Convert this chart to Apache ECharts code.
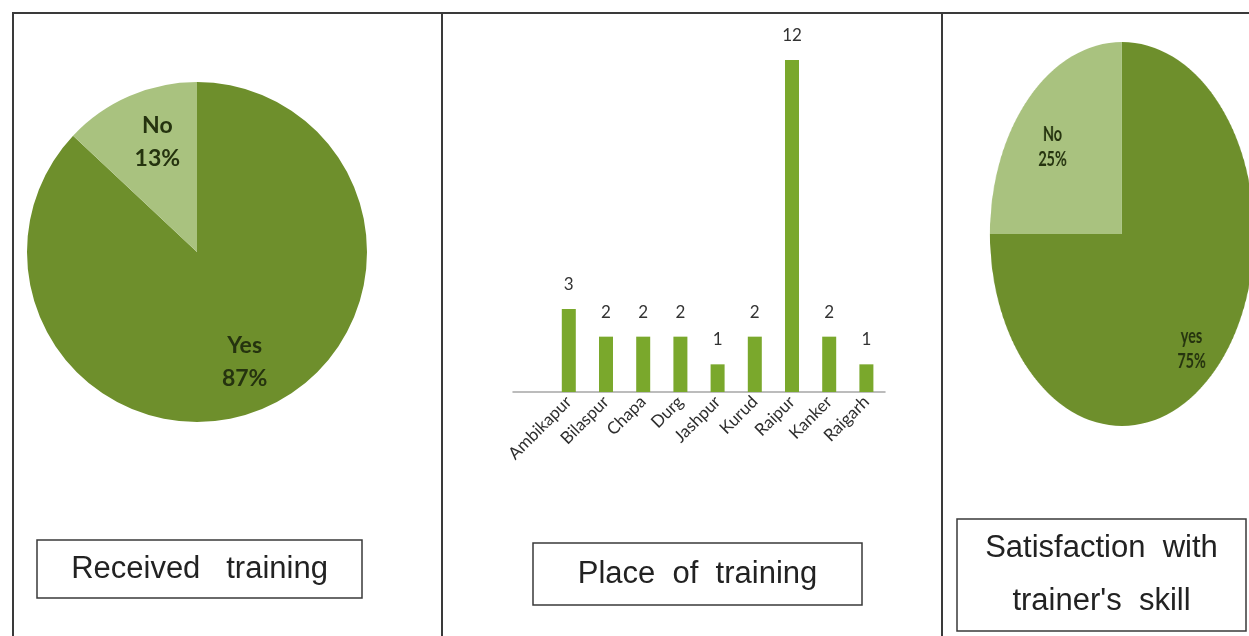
<!DOCTYPE html>
<html>
<head>
<meta charset="utf-8">
<script src="https://cdn.jsdelivr.net/npm/echarts@6/dist/echarts.min.js"></script>
<style>
  html, body { margin: 0; padding: 0; width: 1249px; height: 636px; overflow: hidden; background: #fff; }
  #main { position: absolute; left: 0; top: 0; width: 1249px; height: 636px; }
  /* the satisfaction pie is drawn as a circle and squeezed horizontally into an oval */
  #skill { position: absolute; left: 942px; top: 0; width: 480px; height: 636px;
           transform: scaleX(0.6875); transform-origin: 0 0; }
</style>
</head>
<body>
<div id="main"></div>
<div id="skill"></div>
<script>
// ---- data ----
const trainingLabels = ['Yes', 'No'];
const trainingShares = [87, 13];

const places = ['Ambikapur', 'Bilaspur', 'Chapa', 'Durg', 'Jashpur', 'Kurud', 'Raipur', 'Kanker', 'Raigarh'];
const placeCounts = [3, 2, 2, 2, 1, 2, 12, 2, 1];

const skillLabels = ['yes', 'No'];
const skillShares = [75, 25];

const panelTitles = ['Received   training', 'Place  of  training', "Satisfaction  with\ntrainer's  skill"];

// ---- styles ----
const pieColors = ['#6e8f2c', '#a9c27f'];
const barColor = '#7aa82c';
const frameColor = '#3a3a3a';
const labelFont = 'Lato, "Open Sans", sans-serif';
const boxFont = '"Liberation Sans", Arial, sans-serif';

function pieData(names, values) {
  return names.map((n, i) => ({ name: n, value: values[i], itemStyle: { color: pieColors[i] } }));
}

function pieSeries(names, values, center, radius, labelRing, fontSize, lineHeight, layout) {
  return [
    {
      type: 'pie', center: center, radius: radius, startAngle: 90, clockwise: true,
      silent: true, animation: false,
      data: pieData(names, values),
      label: { show: false }, labelLine: { show: false }
    },
    {
      // transparent ring that only carries the slice labels
      type: 'pie', center: center, radius: labelRing, startAngle: 90, clockwise: true,
      silent: true, animation: false,
      data: pieData(names, values).map(d => ({ ...d, itemStyle: { color: 'rgba(0,0,0,0)' } })),
      label: {
        show: true, position: 'inside', formatter: '{b}\n{c}%',
        fontFamily: labelFont, fontSize: fontSize, lineHeight: lineHeight,
        color: '#25330f', fontWeight: 'bold'
      },
      labelLayout: layout,
      labelLine: { show: false }
    }
  ];
}

function box(x, y, w, h, text, lh) {
  return [
    { type: 'rect', shape: { x: x, y: y, width: w, height: h },
      style: { fill: '#fff', stroke: frameColor, lineWidth: 1.5 }, z: 10 },
    { type: 'text', x: x + w / 2, y: y + h / 2, z: 11,
      style: { text: text, align: 'center', verticalAlign: 'middle',
               font: '31px ' + boxFont, fill: '#222', lineHeight: lh } }
  ];
}

const frameLines = [
  [12, 13, 1249, 13],
  [13, 12, 13, 636],
  [442, 12, 442, 636],
  [942, 12, 942, 636]
].map(p => ({ type: 'line', shape: { x1: p[0], y1: p[1], x2: p[2], y2: p[3] },
             style: { stroke: frameColor, lineWidth: 2 }, z: 12 }));

const main = echarts.init(document.getElementById('main'), null, { renderer: 'canvas' });
main.setOption({
  animation: false,
  backgroundColor: '#fff',
  grid: { left: 513, top: 60, width: 372, height: 332 },
  xAxis: {
    type: 'category', data: places, min: -1,
    axisLine: { lineStyle: { color: '#a6a6a6', width: 1.5 } },
    axisTick: { show: false },
    axisLabel: { interval: 0, rotate: 45, margin: 7, fontFamily: labelFont,
                 fontSize: 17, color: '#2e2e2e' }
  },
  yAxis: { type: 'value', min: 0, max: 12, show: false },
  series: [
    ...pieSeries(trainingLabels, trainingShares, [197, 252], 170, [64, 170], 23, 33,
                 p => (p.dataIndex === 1 ? { dx: 8 } : {})),
    {
      type: 'bar', data: placeCounts, barWidth: 14, silent: true,
      itemStyle: { color: barColor },
      label: { show: true, position: 'top', distance: 16, fontFamily: labelFont,
               fontSize: 17, color: '#333' }
    }
  ],
  graphic: [
    ...frameLines,
    ...box(37, 540, 325, 58, panelTitles[0], 30),
    ...box(533, 543, 329, 62, panelTitles[1], 30),
    ...box(957, 519, 289, 112, panelTitles[2], 53)
  ]
});

const skill = echarts.init(document.getElementById('skill'), null, { renderer: 'canvas' });
skill.setOption({
  animation: false,
  series: pieSeries(skillLabels, skillShares, [(1122 - 942) / 0.6875, 234], 192, [88, 192], 21, 25,
                    { dy: 14 })
});
</script>
</body>
</html>
